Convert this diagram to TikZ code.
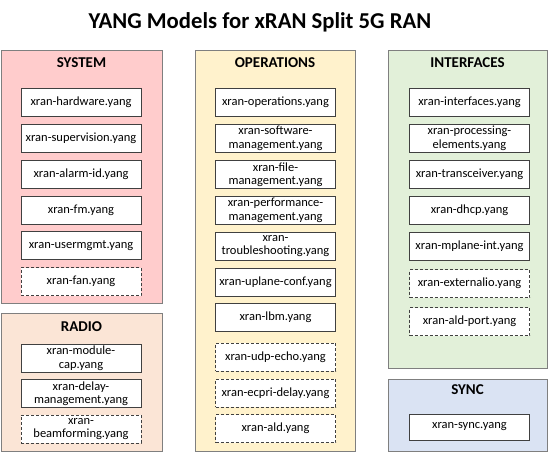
\documentclass[tikz,border=0pt]{standalone}
\usepackage{fontspec}
\setmainfont{Carlito}
\definecolor{sysfill}{HTML}{FFCCCC}
\definecolor{radfill}{HTML}{FBE5D6}
\definecolor{opfill}{HTML}{FFF2CC}
\definecolor{iffill}{HTML}{E2F0D9}
\definecolor{syncfill}{HTML}{DAE3F3}
\definecolor{groupline}{HTML}{7F7F7F}
\definecolor{boxline}{HTML}{404040}
\tikzset{
  group/.style={draw=groupline, line width=0.9pt},
  grouptitle/.style={font=\bfseries\fontsize{15}{17}\selectfont, anchor=center},
  yang/.style={draw=boxline, fill=white, line width=0.8pt, minimum width=120pt, minimum height=28pt,
    inner sep=1pt, align=center, text width=118pt, font=\fontsize{12.5}{13.5}\selectfont},
  yangopt/.style={yang, dashed, dash pattern=on 3pt off 2pt},
}
\begin{document}
\begin{tikzpicture}[x=1pt,y=-1pt]
\useasboundingbox (0,0) rectangle (550,453);
\node[font=\bfseries\fontsize{22.7}{26}\selectfont] (title) at (260,22) {YANG Models for xRAN Split 5G RAN};
% groups
\draw[group, fill=sysfill] (1,50) rectangle (162,303);
\draw[group, fill=radfill] (1,313) rectangle (162,451);
\draw[group, fill=opfill] (195,50) rectangle (355,451);
\draw[group, fill=iffill] (388,50) rectangle (547,368);
\draw[group, fill=syncfill] (388,379) rectangle (547,451);
\node[grouptitle] (tsys) at (81.5,63) {SYSTEM};
\node[grouptitle] (trad) at (81.5,327) {RADIO};
\node[grouptitle] (top) at (275,63) {OPERATIONS};
\node[grouptitle] (tif) at (467.5,63) {INTERFACES};
\node[grouptitle] (tsync) at (467.5,390) {SYNC};
% system
\node[yang] (s1) at (81,102.5) {xran-hardware.yang};
\node[yang] (s2) at (81,138.5) {xran-supervision.yang};
\node[yang] (s3) at (81,174.5) {xran-alarm-id.yang};
\node[yang] (s4) at (81,210.5) {xran-fm.yang};
\node[yang] (s5) at (81,245.5) {xran-usermgmt.yang};
\node[yangopt] (s6) at (81,281.5) {xran-fan.yang};
% radio
\node[yang] (r1) at (81,358) {xran-module-\\cap.yang};
\node[yang] (r2) at (81,393.5) {xran-delay-\\management.yang};
\node[yangopt] (r3) at (81,429) {xran-\\beamforming.yang};
% operations
\node[yang] (o1) at (275.5,102.5) {xran-operations.yang};
\node[yang] (o2) at (275.5,138.5) {xran-software-\\management.yang};
\node[yang] (o3) at (275.5,174.5) {xran-file-\\management.yang};
\node[yang] (o4) at (275.5,210.5) {xran-performance-\\management.yang};
\node[yang] (o5) at (275.5,246) {xran-\\troubleshooting.yang};
\node[yang] (o6) at (275.5,282) {xran-uplane-conf.yang};
\node[yang] (o7) at (275.5,317.5) {xran-lbm.yang};
\node[yangopt] (o8) at (275.5,357) {xran-udp-echo.yang};
\node[yangopt] (o9) at (275.5,393) {xran-ecpri-delay.yang};
\node[yangopt] (o10) at (275.5,428.5) {xran-ald.yang};
% interfaces
\node[yang] (i1) at (469.5,102.5) {xran-interfaces.yang};
\node[yang] (i2) at (469.5,138.5) {xran-processing-\\elements.yang};
\node[yang] (i3) at (469.5,174.5) {xran-transceiver.yang};
\node[yang] (i4) at (469.5,210.5) {xran-dhcp.yang};
\node[yang] (i5) at (469.5,246) {xran-mplane-int.yang};
\node[yangopt] (i6) at (469.5,283.5) {xran-externalio.yang};
\node[yangopt] (i7) at (469.5,321.5) {xran-ald-port.yang};
% sync
\node[yang, minimum height=26pt] (y1) at (469.5,427) {xran-sync.yang};
\end{tikzpicture}
\end{document}
